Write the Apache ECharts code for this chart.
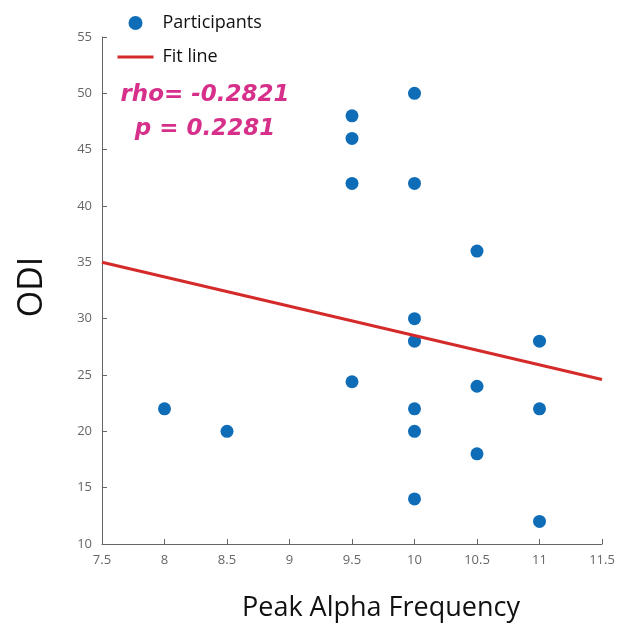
<!DOCTYPE html>
<html><head><meta charset="utf-8">
<script src="https://cdn.jsdelivr.net/npm/echarts@6/dist/echarts.min.js"></script>
<style>html,body{margin:0;padding:0;background:#fff}#c{width:624px;height:629px}</style>
</head><body><div id="c"></div>
<script>
const peakAlpha = [8, 8.5, 9.5, 9.5, 9.5, 9.5, 10, 10, 10, 10, 10, 10, 10, 10.5, 10.5, 10.5, 11, 11, 11];
const odi =       [22, 20, 48, 46, 42, 24.4, 50, 42, 30, 28, 22, 20, 14, 36, 24, 18, 28, 22, 12];
const fitX = [7.5, 11.5];
const fitY = [35, 24.6];
const statsText = ['rho= -0.2821', 'p = 0.2281'];
const xName = 'Peak Alpha Frequency';
const yName = 'ODI';

const chart = echarts.init(document.getElementById('c'));
const axisCommon = {
  axisLine: {show: true, lineStyle: {color: '#666', width: 1}},
  axisTick: {show: true, inside: true, length: 5, lineStyle: {color: '#666'}},
  splitLine: {show: false},
  axisLabel: {color: '#666', fontSize: 13, fontFamily: 'Open Sans', margin: 10}
};
chart.setOption({
  animation: false,
  grid: {left: 102, right: 22, top: 37, bottom: 85},
  xAxis: Object.assign({type: 'value', min: 7.5, max: 11.5, interval: 0.5}, axisCommon),
  yAxis: Object.assign({type: 'value', min: 10, max: 55, interval: 5}, axisCommon),
  legend: {
    orient: 'vertical', left: 111, top: 9, itemWidth: 36, itemHeight: 14, itemGap: 16,
    padding: 5,
    textStyle: {fontSize: 18, color: '#111', fontFamily: 'Open Sans', padding: [0, 0, 0, 4]},
    data: [{name: 'Participants', icon: 'circle'},
           {name: 'Fit line', itemStyle: {opacity: 0}, lineStyle: {width: 3}}]
  },
  series: [
    {name: 'Participants', type: 'scatter', symbolSize: 13,
     itemStyle: {color: '#0f6db8', opacity: 1},
     data: peakAlpha.map((x, i) => [x, odi[i]])},
    {name: 'Fit line', type: 'line', symbol: 'none',
     lineStyle: {color: '#d42a2a', width: 3}, itemStyle: {color: '#d42a2a'},
     data: fitX.map((x, i) => [x, fitY[i]])}
  ],
  graphic: [
    {type: 'text', x: 205, y: 95, style: {text: statsText[0], fill: '#d6308a', font: 'italic bold 23px "DejaVu Sans"', textAlign: 'center', textVerticalAlign: 'middle'}},
    {type: 'text', x: 205, y: 129, style: {text: statsText[1], fill: '#d6308a', font: 'italic bold 23px "DejaVu Sans"', textAlign: 'center', textVerticalAlign: 'middle'}},
    {type: 'text', x: 381, y: 608, style: {text: xName, fill: '#111', font: '27px "Open Sans"', textAlign: 'center', textVerticalAlign: 'middle'}},
    {type: 'text', x: 32, y: 287, rotation: Math.PI / 2, style: {text: yName, fill: '#111', font: '34px "Open Sans"', textAlign: 'center', textVerticalAlign: 'middle'}}
  ]
});
</script></body></html>
